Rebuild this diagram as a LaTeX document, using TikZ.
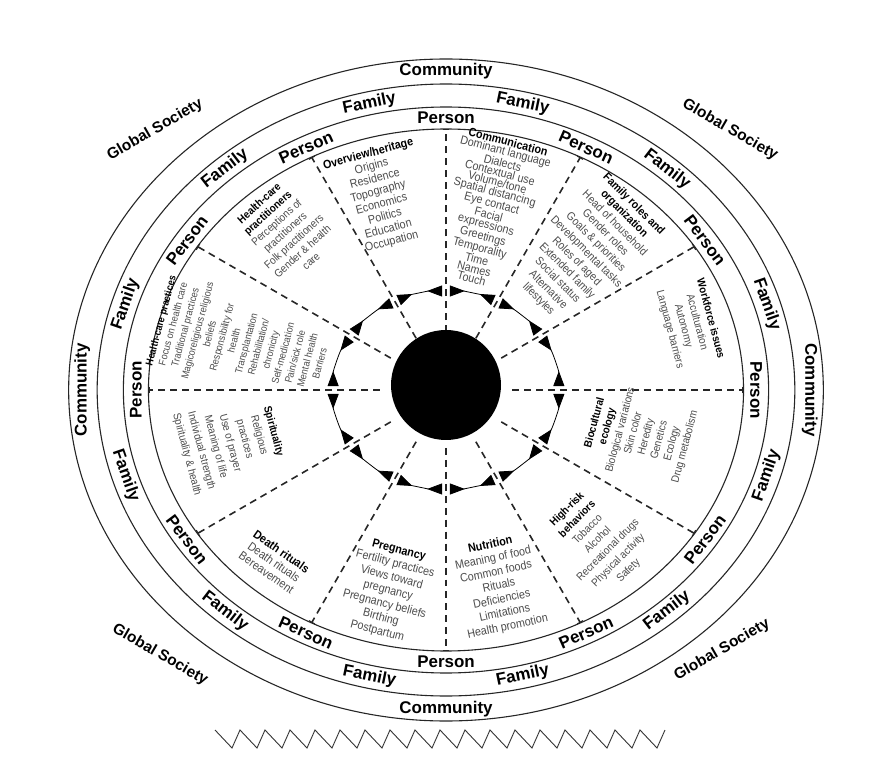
\documentclass[tikz,border=0pt]{standalone}
\usepackage{fontspec}
\setmainfont{Liberation Sans}[FakeStretch=0.9]
\newfontfamily\ringfont{Liberation Sans}
\usetikzlibrary{arrows.meta,positioning}

\newcommand{\hd}[1]{\textcolor{black}{\bfseries #1}}

\begin{document}
\begin{tikzpicture}[x=1bp,y=1bp,
  band/.style={line width=1.1pt,black!85},
  spoke/.style={line width=1.6pt,black!85,dash pattern=on 7pt off 5pt,-{Bar[width=7pt,line width=1.2pt]}},
  turn/.style={line width=0.8pt,{Triangle[reversed,length=15pt,width=11pt]}-{Triangle[reversed,length=15pt,width=11pt]},shorten <=4pt,shorten >=4pt},
  lvl/.style={font=\ringfont\bfseries\fontsize{17}{17}\selectfont,inner sep=0pt},
  topic/.style={align=center,inner sep=0pt,text=black!70,font=\fontsize{11}{#1}\selectfont},
  topic/.default=13]
  \fill[white] (-446,-376) rectangle (434,390);
  \useasboundingbox (-446,-376) rectangle (434,390);

  % rings
  \foreach \r in {261,283,306,331}
    \draw[band] (0,0) ellipse[x radius={1.14*\r}, y radius=\r];

  % spokes
  \foreach \a in {0,30,...,330}{
    \pgfmathsetmacro\t{atan2(1.14*sin(\a),cos(\a))}
    \coordinate (s\a) at ({1.14*58*cos(\t)},{58*sin(\t)});
    \coordinate (e\a) at ({1.14*261*cos(\t)},{261*sin(\t)});
    \draw[spoke] (s\a) -- (e\a);
  }

  % arrow ring
  \foreach \a in {0,30,...,330}{
    \pgfmathsetmacro\ta{atan2(1.14*sin(\a),cos(\a))}
    \pgfmathsetmacro\tb{atan2(1.14*sin(\a+30),cos(\a+30))}
    \pgfmathsetmacro\dt{mod(\tb-\ta+720,360)}
    \draw[turn] ({1.14*99*cos(\ta)},{99*sin(\ta)}) arc[start angle=\ta, delta angle=\dt, x radius=112.9, y radius=99];
  }

  \node[circle,fill=black,minimum size=110bp,inner sep=0pt] (hub) at (0,5) {};

  % ring labels
  \foreach \a [count=\i] in {0,30,...,330}{
    \pgfmathsetmacro\t{atan2(1.14*sin(\a),cos(\a))}
    \pgfmathsetmacro\rr{sin(\t)>-0.01 ? atan2(-cos(\t),1.14*sin(\t)) : atan2(cos(\t),-1.14*sin(\t))}
    \node[lvl,rotate=\rr] (p\i) at ({1.14*272*cos(\t)},{272*sin(\t)}) {Person};
  }
  \foreach \a [count=\i] in {15,45,...,345}{
    \pgfmathsetmacro\t{atan2(1.14*sin(\a),cos(\a))}
    \pgfmathsetmacro\rr{sin(\t)>-0.01 ? atan2(-cos(\t),1.14*sin(\t)) : atan2(cos(\t),-1.14*sin(\t))}
    \node[lvl,rotate=\rr] (f\i) at ({1.14*294*cos(\t)},{294*sin(\t)}) {Family};
  }
  \foreach \a [count=\i] in {0,90,180,270}{
    \pgfmathsetmacro\rr{sin(\a)>-0.01 ? atan2(-cos(\a),1.14*sin(\a)) : atan2(cos(\a),-1.14*sin(\a))}
    \node[lvl,rotate=\rr] (c\i) at ({1.14*319*cos(\a)},{319*sin(\a)}) {Community};
  }
  \node[lvl,font=\ringfont\bfseries\fontsize{15.5}{15.5}\selectfont,rotate=-30] (g1) at (284,260) {Global Society};
  \node[lvl,font=\ringfont\bfseries\fontsize{15.5}{15.5}\selectfont,rotate=30] (g2) at (-291,260) {Global Society};
  \node[lvl,font=\ringfont\bfseries\fontsize{15.5}{15.5}\selectfont,rotate=-30] (g3) at (-286,-265) {Global Society};
  \node[lvl,font=\ringfont\bfseries\fontsize{15.5}{15.5}\selectfont,rotate=30] (g4) at (276,-260) {Global Society};

  % domains
  \node[topic,rotate=15,font=\fontsize{12}{13}\selectfont] (overview) at (-66,192)
    {\hd{Overview/heritage}\\Origins\\Residence\\Topography\\Economics\\Politics\\Education\\Occupation};
  \node[topic,rotate=-15,font=\fontsize{12}{9.9}\selectfont] (comm) at (44,180)
    {\hd{Communication}\\Dominant language\\Dialects\\Contextual use\\Volume/tone\\Spatial distancing\\Eye contact\\Facial\\expressions\\Greetings\\Temporality\\Time\\Names\\Touch};
  \node[topic,rotate=-45,font=\fontsize{11.5}{13.5}\selectfont] (roles) at (140,138)
    {\hd{Family roles and}\\\hd{organization}\\Head of household\\Gender roles\\Goals \& priorities\\Developmental tasks\\Roles of aged\\Extended family\\Social status\\Alternative\\lifestyles};
  \node[topic=14,rotate=-75] (work) at (244,66)
    {\hd{Workforce issues}\\Acculturation\\Autonomy\\Language barriers};
  \node[topic=13.4,rotate=75] (bio) at (194,-45)
    {\hd{Biocultural}\\\hd{ecology}\\Biological variations\\Skin color\\Heredity\\Genetics\\Ecology\\Drug metabolism};
  \node[topic=14.5,rotate=45] (risk) at (152,-150)
    {\hd{High-risk}\\\hd{behaviors}\\Tobacco\\Alcohol\\Recreational drugs\\Physical activity\\Safety};
  \node[topic,rotate=12,font=\fontsize{12}{14}\selectfont] (food) at (53,-196)
    {\hd{Nutrition}\\Meaning of food\\Common foods\\Rituals\\Deficiencies\\Limitations\\Health promotion};
  \node[topic,rotate=-15,font=\fontsize{12}{14}\selectfont] (preg) at (-58,-201)
    {\hd{Pregnancy}\\Fertility practices\\Views toward\\pregnancy\\Pregnancy beliefs\\Birthing\\Postpartum};
  \node[topic,rotate=-35,font=\fontsize{12}{13}\selectfont] (death) at (-172,-172)
    {\hd{Death rituals}\\Death rituals\\Bereavement};
  \node[topic=15,rotate=-75] (spirit) at (-216,-53)
    {\hd{Spirituality}\\Religious\\practices\\Use of prayer\\Meaning of life\\Individual strength\\Spirituality \& health};
  \node[topic,rotate=75,font=\fontsize{10.2}{12.7}\selectfont] (practices) at (-206,48)
    {\hd{Health-care practices}\\Focus on health care\\Traditional practices\\Magicoreligious religious\\beliefs\\Responsibility for\\health\\Transplantation\\Rehabilitation/\\chronicity\\Self-medication\\Pain/sick role\\Mental health\\Barriers};
  \node[topic,rotate=42] (carers) at (-161,158)
    {\hd{Health-care}\\\hd{practitioners}\\Perceptions of\\practitioners\\Folk practitioners\\Gender \& health\\care};

  % zigzag
  \draw[line width=0.9pt,black!80] (-231,-340)
    \foreach \k in {0,...,17} { -- ({-231+25*\k+17},-358) -- ({-231+25*(\k+1)},-340) };
\end{tikzpicture}
\end{document}
